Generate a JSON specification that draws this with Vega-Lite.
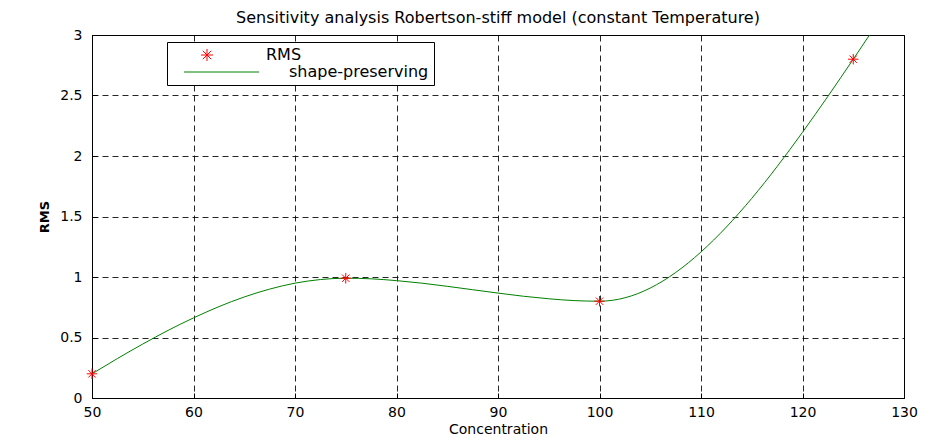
{
  "$schema": "https://vega.github.io/schema/vega-lite/v6.json",
  "width": 812,
  "height": 363,
  "autosize": "none",
  "padding": {"left": 92, "top": 35, "right": 24, "bottom": 39},
  "background": "white",
  "title": {
    "text": "Sensitivity analysis Robertson-stiff model (constant Temperature)",
    "font": "DejaVu Sans",
    "fontSize": 16,
    "fontWeight": "normal",
    "color": "#000",
    "offset": 2,
    "anchor": "middle"
  },
  "config": {
    "view": {"stroke": "#000", "strokeWidth": 1},
    "axis": {
      "grid": true,
      "gridDash": [6, 4],
      "gridColor": "#000",
      "gridOpacity": 0.85,
      "tickSize": -5,
      "tickColor": "#000",
      "domainColor": "#000",
      "labelFont": "DejaVu Sans",
      "labelFontSize": 14,
      "labelColor": "#000",
      "labelOverlap": false,
      "labelFlush": false,
      "titleFont": "DejaVu Sans",
      "titleColor": "#000"
    }
  },
  "datasets": {
    "curve": [
      {"c": 50, "rms": 0.2, "series": "shape-preserving"},
      {"c": 52.5, "rms": 0.326, "series": "shape-preserving"},
      {"c": 55, "rms": 0.446, "series": "shape-preserving"},
      {"c": 57.5, "rms": 0.559, "series": "shape-preserving"},
      {"c": 60, "rms": 0.662, "series": "shape-preserving"},
      {"c": 62.5, "rms": 0.755, "series": "shape-preserving"},
      {"c": 65, "rms": 0.835, "series": "shape-preserving"},
      {"c": 67.5, "rms": 0.9, "series": "shape-preserving"},
      {"c": 70, "rms": 0.949, "series": "shape-preserving"},
      {"c": 72.5, "rms": 0.979, "series": "shape-preserving"},
      {"c": 75, "rms": 0.99, "series": "shape-preserving"},
      {"c": 77.5, "rms": 0.985, "series": "shape-preserving"},
      {"c": 80, "rms": 0.97, "series": "shape-preserving"},
      {"c": 82.5, "rms": 0.949, "series": "shape-preserving"},
      {"c": 85, "rms": 0.923, "series": "shape-preserving"},
      {"c": 87.5, "rms": 0.895, "series": "shape-preserving"},
      {"c": 90, "rms": 0.867, "series": "shape-preserving"},
      {"c": 92.5, "rms": 0.841, "series": "shape-preserving"},
      {"c": 95, "rms": 0.82, "series": "shape-preserving"},
      {"c": 97.5, "rms": 0.805, "series": "shape-preserving"},
      {"c": 100, "rms": 0.8, "series": "shape-preserving"},
      {"c": 101.25, "rms": 0.807, "series": "shape-preserving"},
      {"c": 102.5, "rms": 0.828, "series": "shape-preserving"},
      {"c": 103.75, "rms": 0.862, "series": "shape-preserving"},
      {"c": 105, "rms": 0.909, "series": "shape-preserving"},
      {"c": 106.25, "rms": 0.967, "series": "shape-preserving"},
      {"c": 107.5, "rms": 1.037, "series": "shape-preserving"},
      {"c": 108.75, "rms": 1.117, "series": "shape-preserving"},
      {"c": 110, "rms": 1.207, "series": "shape-preserving"},
      {"c": 111.25, "rms": 1.306, "series": "shape-preserving"},
      {"c": 112.5, "rms": 1.413, "series": "shape-preserving"},
      {"c": 115, "rms": 1.65, "series": "shape-preserving"},
      {"c": 117.5, "rms": 1.913, "series": "shape-preserving"},
      {"c": 120, "rms": 2.196, "series": "shape-preserving"},
      {"c": 122.5, "rms": 2.493, "series": "shape-preserving"},
      {"c": 125, "rms": 2.8, "series": "shape-preserving"},
      {"c": 126.6, "rms": 3.0, "series": "shape-preserving"}
    ],
    "pts": [
      {"c": 50, "rms": 0.2, "series": "RMS"},
      {"c": 75, "rms": 0.99, "series": "RMS"},
      {"c": 100, "rms": 0.8, "series": "RMS"},
      {"c": 125, "rms": 2.8, "series": "RMS"}
    ]
  },
  "layer": [
    {
      "data": {"name": "curve"},
      "mark": {"type": "line", "strokeWidth": 1, "clip": true, "interpolate": "monotone"},
      "encoding": {
        "x": {
          "field": "c", "type": "quantitative",
          "scale": {"domain": [50, 130], "nice": false, "zero": false},
          "axis": {
            "title": "Concentration",
            "values": [50, 60, 70, 80, 90, 100, 110, 120, 130],
            "labelPadding": 12,
            "titleFontSize": 14,
            "titleFontWeight": "normal",
            "titlePadding": 3
          }
        },
        "y": {
          "field": "rms", "type": "quantitative",
          "scale": {"domain": [0, 3], "nice": false},
          "axis": {
            "title": "RMS",
            "values": [0, 0.5, 1, 1.5, 2, 2.5, 3],
            "format": "~g",
            "labelPadding": 15,
            "titleFontSize": 13,
            "titleFontWeight": "bold",
            "titlePadding": 8
          }
        },
        "color": {
          "field": "series", "type": "nominal",
          "scale": {"domain": ["RMS", "shape-preserving"], "range": ["#ff0000", "#008000"]},
          "legend": {
            "title": null,
            "orient": "none",
            "legendX": 75,
            "legendY": 7,
            "direction": "vertical",
            "fillColor": "white",
            "strokeColor": "#000",
            "padding": 5,
            "labelFont": "DejaVu Sans",
            "labelFontSize": 16,
            "labelColor": "#000",
            "symbolStrokeWidth": 1,
            "symbolSize": 144,
            "rowPadding": 1,
            "labelOffset": 78,
            "encode": {
              "symbols": {
                "update": {
                  "shape": {"signal": "datum.value === 'RMS' ? 'M3.5,0L5.5,0M4.5,-1L4.5,1M3.8,-0.7L5.2,0.7M3.8,0.7L5.2,-0.7' : 'M0.67,0L13.17,0'"},
                  "size": {"value": 144},
                  "fill": {"value": "transparent"}
                }
              },
              "labels": {
                "update": {
                  "dx": {"signal": "datum.value === 'RMS' ? 0 : 23"}
                }
              }
            }
          }
        }
      }
    },
    {
      "data": {"name": "pts"},
      "mark": {
        "type": "point",
        "shape": "M-1,0L1,0M0,-1L0,1M-0.7,-0.7L0.7,0.7M-0.7,0.7L0.7,-0.7",
        "size": 110,
        "filled": false,
        "strokeWidth": 1,
        "opacity": 1
      },
      "encoding": {
        "x": {"field": "c", "type": "quantitative"},
        "y": {"field": "rms", "type": "quantitative"},
        "color": {"field": "series", "type": "nominal"}
      }
    }
  ]
}
